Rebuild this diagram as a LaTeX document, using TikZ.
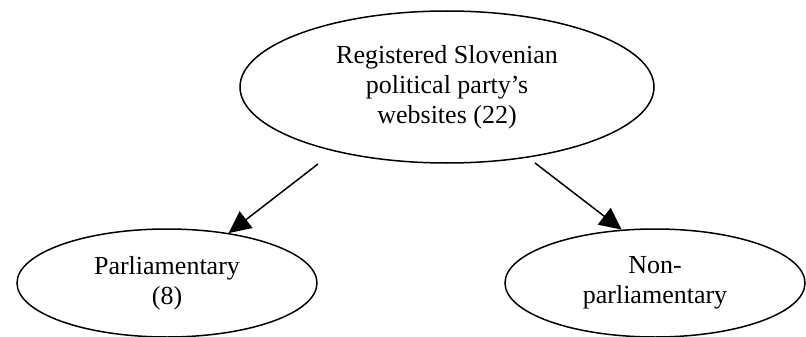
\documentclass[tikz,border=0pt]{standalone}
\usepackage{fontspec}
\setmainfont{Liberation Serif}
\usetikzlibrary{shapes.geometric,arrows.meta}
\begin{document}
\begin{tikzpicture}[x=1pt,y=-1pt,
  oval/.style={ellipse,draw,line width=1.5pt,inner sep=0pt,align=center,
    font=\fontsize{26}{30}\selectfont},
  arr/.style={line width=1.5pt,-{Triangle[length=22pt,width=21pt]}}]
\useasboundingbox (0,0) rectangle (806,337);
\node[oval,minimum width=414pt,minimum height=152pt] (top) at (447,87)
  {Registered Slovenian\\political party’s\\websites (22)};
\node[oval,minimum width=300pt,minimum height=108pt] (left) at (167,283)
  {Parliamentary\\(8)};
\node[oval,minimum width=300pt,minimum height=108pt] (right) at (655,283)
  {Non-\\parliamentary};
\coordinate (t1) at (318,164);
\coordinate (t2) at (535,163);
\draw[arr] (t1) -- (left.39);
\draw[arr] (t2) -- (right.122);
\end{tikzpicture}
\end{document}
